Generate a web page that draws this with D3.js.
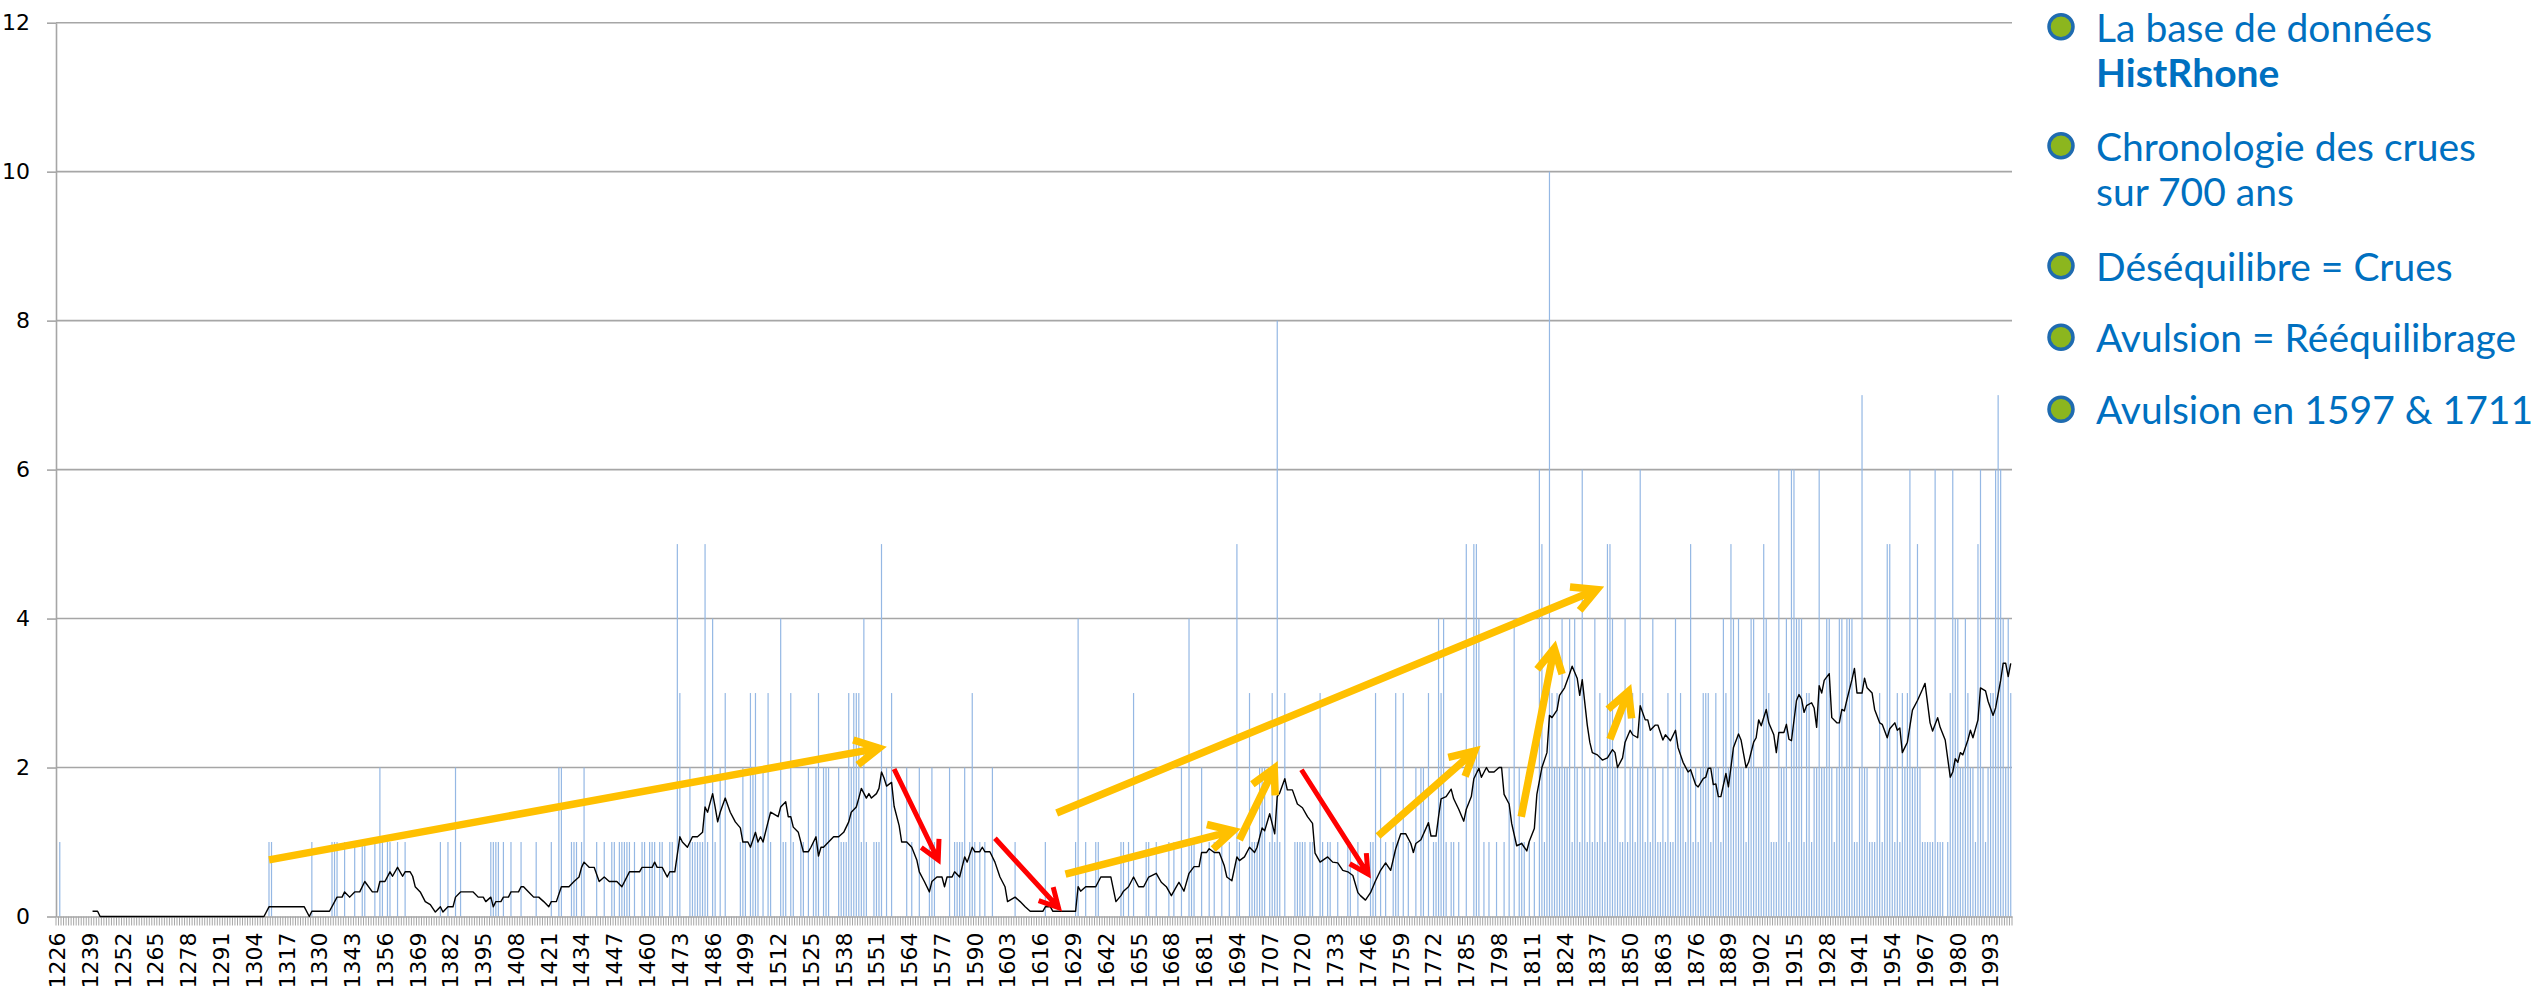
<!DOCTYPE html>
<html>
<head>
<meta charset="utf-8">
<script src="https://cdn.jsdelivr.net/npm/d3@7"></script>
<style>
  body { margin: 0; background: #fff; }
  svg { display: block; }
</style>
</head>
<body>
<div id="chart"></div>
<script>
// yearly flood counts, one row per decade
var floods1200 = [
  0,1,0,0,
  0,0,0,0,0,0,0,0,0,0,
  0,0,0,0,0,0,0,0,0,0,
  0,0,0,0,0,0,0,0,0,0,
  0,0,0,0,0,0,0,0,0,0,
  0,0,0,0,0,0,0,0,0,0,
  0,0,0,0,0,0,0,0,0,0,
  0,0,0,0,0,0,0,0,0,0
];
var floods1300 = [
  0,0,0,0,0,0,0,0,0,0,
  1,1,0,0,0,0,0,0,0,0,
  0,0,0,0,0,0,0,1,0,0,
  0,0,0,0,0,1,1,1,0,0,
  1,0,0,0,1,0,0,1,1,0,
  0,0,1,0,2,1,0,1,1,0,
  0,1,0,0,1,0,0,0,0,0,
  0,0,0,0,0,0,0,0,1,0,
  0,1,0,0,2,0,1,0,0,0,
  0,0,0,0,0,0,0,0,1,1
];
var floods1400 = [
  1,1,0,1,0,0,1,0,0,0,
  1,0,0,0,0,0,1,0,0,0,
  0,0,1,0,0,2,2,0,0,0,
  1,1,1,0,1,2,0,0,0,0,
  1,0,0,1,0,0,1,1,0,1,
  1,1,1,1,0,1,0,0,1,1,
  0,1,1,1,0,1,1,0,0,1,
  1,0,5,3,0,0,0,2,1,1,
  1,1,1,5,1,0,4,1,0,2,
  0,3,0,0,0,0,0,1,2,1
];
var floods1500 = [
  0,3,2,3,1,0,2,0,3,1,
  0,0,0,4,1,1,0,3,1,0,
  0,1,1,0,2,0,1,2,3,0,
  2,2,2,0,0,0,2,1,1,1,
  3,2,3,3,3,1,4,1,0,0,
  1,1,1,5,0,2,0,3,0,0,
  0,0,0,2,0,1,0,0,2,0,
  0,0,1,2,1,0,0,0,0,0,
  2,0,1,1,1,1,2,0,1,3,
  1,0,1,0,1,0,0,2,0,0
];
var floods1600 = [
  0,0,0,0,0,0,1,0,0,0,
  0,0,0,0,0,0,0,0,1,0,
  0,0,0,0,0,0,0,0,0,0,
  1,4,0,0,1,0,0,0,1,1,
  0,0,0,0,0,0,0,0,1,1,
  0,1,0,3,0,0,0,0,1,1,
  0,0,1,0,0,0,0,1,0,1,
  0,0,2,0,0,4,1,1,0,0,
  2,0,0,1,0,1,0,0,1,0,
  0,1,0,0,5,1,0,0,0,3
];
var floods1700 = [
  1,1,1,2,2,2,0,1,3,1,
  8,1,0,3,0,0,0,1,1,1,
  1,1,0,1,1,0,0,3,1,0,
  1,1,0,0,1,0,0,0,1,1,
  0,0,1,0,0,0,0,1,1,3,
  0,2,0,1,0,0,1,3,1,0,
  3,0,1,0,0,2,0,2,2,0,
  3,0,1,1,4,3,4,1,0,1,
  1,0,1,0,0,5,0,0,5,5,
  4,0,1,0,1,0,0,1,0,0
];
var floods1800 = [
  1,0,2,0,4,0,2,1,1,0,
  1,0,1,0,6,5,1,2,10,3,
  2,3,2,4,2,2,4,1,4,2,
  1,6,2,1,2,1,4,1,3,2,
  1,5,5,4,2,2,1,1,4,1,
  2,3,1,2,6,3,1,2,1,4,
  2,1,1,2,1,3,1,1,4,2,
  3,2,1,2,5,1,2,1,2,3,
  3,3,1,2,3,2,1,4,3,2,
  5,4,2,4,2,2,1,2,4,4
];
var floods1900 = [
  2,2,2,5,4,3,1,1,1,6,
  2,2,4,1,6,6,4,4,4,1,
  3,3,1,2,2,6,2,2,4,4,
  2,1,2,4,4,2,4,4,4,1,
  1,2,7,2,2,1,1,1,2,3,
  1,2,5,5,2,1,3,1,3,2,
  3,6,2,2,5,2,1,1,1,1,
  1,6,1,1,1,0,1,3,6,4,
  4,2,2,4,3,2,2,1,5,6,
  2,1,2,3,3,6,7,6,4,2,
  4,3
];

// 15-year moving average: [year, value]
var movingAvg = [
  [1240,.07],[1242,.07],[1243,0],[1308,0],[1310,.13],[1324,.13],[1326,0],[1327,.07],[1334,.07],[1337,.26],
  [1339,.26],[1340,.33],[1342,.26],[1344,.33],[1346,.33],[1348,.47],[1351,.33],[1353,.33],[1354,.47],[1356,.47],
  [1358,.6],[1359,.54],[1361,.66],[1363,.54],[1364,.6],[1366,.6],[1367,.54],[1368,.4],[1370,.33],[1372,.2],
  [1374,.16],[1376,.06],[1378,.13],[1379,.06],[1381,.13],[1383,.13],[1384,.26],[1386,.33],[1391,.33],[1393,.26],
  [1395,.26],[1396,.2],[1398,.26],[1399,.13],[1400,.2],[1402,.2],[1403,.26],[1405,.26],[1406,.33],[1409,.33],
  [1410,.4],[1411,.4],[1413,.33],[1415,.26],[1417,.26],[1419,.2],[1421,.13],[1422,.2],[1424,.2],[1426,.4],
  [1429,.4],[1431,.47],[1433,.53],[1434,.66],[1435,.73],[1437,.66],[1439,.66],[1441,.47],[1443,.53],[1445,.47],
  [1448,.47],[1450,.4],[1453,.6],[1457,.6],[1458,.66],[1462,.66],[1463,.73],[1464,.66],[1466,.66],[1468,.53],
  [1469,.6],[1471,.6],[1473,1.07],[1474,1],[1476,.93],[1477,1],[1478,1.07],[1480,1.07],[1482,1.13],[1483,1.47],
  [1484,1.4],[1486,1.65],[1487,1.47],[1488,1.27],[1489,1.4],[1491,1.59],[1493,1.4],[1495,1.27],[1497,1.19],[1498,1],
  [1500,1],[1501,.93],[1503,1.13],[1504,1],[1505,1.07],[1506,1],[1508,1.27],[1509,1.4],[1512,1.34],[1513,1.47],
  [1515,1.54],[1516,1.34],[1517,1.34],[1518,1.2],[1520,1.13],[1522,.87],[1524,.87],[1525,.93],[1527,1.07],[1528,.81],
  [1529,.93],[1530,.93],[1532,1],[1534,1.07],[1536,1.07],[1538,1.13],[1540,1.27],[1541,1.4],[1543,1.47],[1544,1.59],
  [1545,1.72],[1547,1.59],[1548,1.65],[1549,1.59],[1551,1.65],[1552,1.72],[1553,1.94],[1554,1.86],[1555,1.75],[1557,1.8],
  [1558,1.48],[1560,1.22],[1561,1],[1563,1],[1565,.93],[1567,.76],[1568,.6],[1570,.47],[1572,.33],[1573,.47],
  [1575,.53],[1577,.53],[1578,.4],[1579,.53],[1581,.53],[1582,.6],[1584,.53],[1586,.8],[1587,.73],[1589,.93],
  [1590,.87],[1592,.87],[1593,.93],[1594,.87],[1596,.87],[1598,.73],[1600,.53],[1602,.4],[1603,.2],[1606,.26],
  [1608,.2],[1610,.13],[1612,.07],[1617,.07],[1618,.13],[1620,.13],[1621,.07],[1630,.07],[1631,.4],[1632,.34],
  [1634,.4],[1638,.4],[1640,.53],[1644,.53],[1646,.2],[1648,.28],[1649,.34],[1651,.4],[1653,.53],[1655,.4],
  [1657,.4],[1659,.53],[1662,.58],[1664,.46],[1666,.4],[1668,.28],[1670,.4],[1671,.46],[1673,.34],[1675,.58],
  [1677,.67],[1679,.67],[1680,.86],[1682,.86],[1683,.91],[1685,.86],[1687,.86],[1689,.68],[1690,.53],[1692,.48],
  [1694,.8],[1695,.75],[1697,.8],[1699,.93],[1701,.86],[1702,.93],[1704,1.19],[1705,1.15],[1707,1.38],[1709,1.11],
  [1710,1.61],[1711,1.66],[1713,1.85],[1714,1.7],[1716,1.7],[1718,1.51],[1720,1.46],[1722,1.34],[1724,1.25],[1725,.85],
  [1727,.73],[1730,.8],[1732,.73],[1734,.72],[1736,.62],[1738,.6],[1740,.55],[1742,.32],[1743,.28],[1745,.22],
  [1747,.32],[1749,.48],[1751,.62],[1753,.72],[1755,.62],[1757,.91],[1759,1.11],[1761,1.11],[1763,.98],[1764,.86],
  [1765,.98],[1767,1.03],[1770,1.26],[1771,1.08],[1773,1.08],[1774,1.34],[1775,1.58],[1777,1.61],[1779,1.71],[1780,1.58],
  [1782,1.44],[1784,1.28],[1785,1.44],[1787,1.61],[1788,1.85],[1790,1.99],[1791,1.87],[1793,2],[1794,1.94],[1796,1.94],
  [1798,2],[1799,2],[1800,1.64],[1802,1.51],[1803,1.25],[1805,.95],[1807,.98],[1809,.88],[1810,1.01],[1812,1.18],
  [1813,1.64],[1815,2],[1817,2.2],[1818,2.7],[1819,2.67],[1821,2.77],[1822,2.97],[1824,3.07],[1826,3.26],[1827,3.36],
  [1829,3.2],[1830,2.97],[1831,3.18],[1833,2.57],[1834,2.34],[1835,2.2],[1837,2.17],[1839,2.1],[1841,2.13],[1843,2.24],
  [1844,2.2],[1845,2],[1847,2.13],[1848,2.34],[1850,2.5],[1851,2.44],[1853,2.4],[1854,2.83],[1856,2.64],[1857,2.64],
  [1858,2.5],[1860,2.57],[1861,2.57],[1863,2.37],[1864,2.44],[1866,2.36],[1868,2.5],[1869,2.27],[1870,2.17],[1871,2.07],
  [1873,1.94],[1874,1.97],[1876,1.77],[1877,1.74],[1879,1.85],[1880,1.87],[1881,1.99],[1882,1.99],[1883,1.77],[1884,1.78],
  [1885,1.61],[1886,1.61],[1888,1.92],[1889,1.74],[1891,2.27],[1893,2.45],[1894,2.37],[1896,2],[1897,2.07],[1899,2.34],
  [1900,2.4],[1901,2.64],[1902,2.56],[1904,2.78],[1905,2.6],[1907,2.44],[1908,2.2],[1909,2.47],[1911,2.47],[1912,2.58],
  [1913,2.38],[1914,2.36],[1916,2.9],[1917,2.98],[1918,2.92],[1919,2.74],[1920,2.83],[1922,2.87],[1923,2.8],[1924,2.54],
  [1925,3.1],[1926,3],[1927,3.17],[1929,3.26],[1930,2.67],[1932,2.6],[1933,2.6],[1934,2.78],[1935,2.76],[1936,2.91],
  [1938,3.18],[1939,3.33],[1940,3],[1942,3],[1943,3.2],[1944,3.07],[1946,3],[1947,2.78],[1949,2.6],[1950,2.58],
  [1952,2.4],[1953,2.52],[1955,2.6],[1956,2.5],[1957,2.53],[1958,2.2],[1959,2.27],[1960,2.34],[1962,2.77],[1964,2.9],
  [1966,3.05],[1967,3.13],[1969,2.6],[1970,2.49],[1972,2.67],[1973,2.54],[1975,2.37],[1977,1.87],[1978,1.94],[1979,2.12],
  [1980,2.07],[1981,2.2],[1982,2.17],[1984,2.37],[1985,2.5],[1986,2.4],[1988,2.64],[1989,3.07],[1991,3.03],[1992,2.89],
  [1994,2.7],[1995,2.8],[1997,3.17],[1998,3.4],[1999,3.4],[2000,3.22],[2001,3.4]
];

var yTicks = [0, 2, 4, 6, 8, 10, 12];
var firstYear = 1226, labelStep = 13;

// annotation arrows: [yearFrom, valueFrom, yearTo, valueTo]
var riseArrows = [
  [1310, 0.76, 1552, 2.26],
  [1626, 0.57, 1692.5, 1.15],
  [1695, 1.03, 1708.8, 1.99],
  [1622.5, 1.39, 1836.8, 4.39],
  [1750, 1.08, 1788.3, 2.22],
  [1806.8, 1.34, 1819.9, 3.6],
  [1842, 2.38, 1849.3, 3.02]
];
var fallArrows = [
  [1558, 1.98, 1575.5, 0.76],
  [1598, 1.05, 1623.2, 0.12],
  [1719.6, 1.97, 1746, 0.57]
];

var legendItems = [
  [["La base de données", false], ["HistRhone", true]],
  [["Chronologie des crues", false], ["sur 700 ans", false]],
  [["Déséquilibre = Crues", false]],
  [["Avulsion = Rééquilibrage", false]],
  [["Avulsion en 1597 & 1711", false]]
];

var floods = [].concat(floods1200, floods1300, floods1400, floods1500,
                       floods1600, floods1700, floods1800, floods1900);
var years = d3.range(firstYear, firstYear + floods.length);
var data = years.map(function(yr, i) { return {year: yr, count: floods[i]}; });
var labelYears = years.filter(function(yr) { return (yr - firstYear) % labelStep == 0; });

var width = 2539, height = 993;
var margin = {left: 56, right: 2012, top: 22.7, bottom: 916.5};

var svg = d3.select("#chart").append("svg")
  .attr("width", width)
  .attr("height", height);

svg.append("rect").attr("width", width).attr("height", height).attr("fill", "#fff");

var x = d3.scaleBand().domain(years).range([margin.left, margin.right]).paddingInner(0);
var bw = x.bandwidth();
// continuous version for the arrows (fractional years)
var xYear = d3.scaleLinear().domain([firstYear, firstYear + years.length]).range([margin.left, margin.right]);
var y = d3.scaleLinear().domain([0, 12]).range([margin.bottom, margin.top]);

var gridColor = "#A6A6A6";
var axisFont = "'DejaVu Sans', sans-serif";

// horizontal gridlines
svg.append("g").selectAll("line")
  .data(yTicks.filter(function(v) { return v > 0; }))
  .enter().append("line")
  .attr("x1", margin.left).attr("x2", margin.right)
  .attr("y1", function(d) { return y(d); })
  .attr("y2", function(d) { return y(d); })
  .attr("stroke", gridColor)
  .attr("stroke-width", 1.6);

// bars
svg.append("g").selectAll("rect")
  .data(data.filter(function(d) { return d.count > 0; }))
  .enter().append("rect")
  .attr("x", function(d) { return x(d.year) + bw / 2 - 0.6; })
  .attr("width", 1.2)
  .attr("y", function(d) { return y(d.count); })
  .attr("height", function(d) { return y(0) - y(d.count); })
  .attr("fill", "#95B8E4");

// Y axis
var yAxis = svg.append("g")
  .attr("transform", "translate(" + margin.left + ",0)")
  .call(d3.axisLeft(y).tickValues(yTicks).tickSize(9).tickSizeOuter(0).tickPadding(17));
yAxis.select(".domain").attr("stroke", gridColor).attr("stroke-width", 1.6);
yAxis.selectAll(".tick line").attr("stroke", gridColor).attr("stroke-width", 1.6);
yAxis.selectAll("text")
  .style("font-family", axisFont)
  .style("font-size", "22px")
  .attr("fill", "#000");

// X axis
var xAxis = svg.append("g")
  .attr("transform", "translate(0," + margin.bottom + ")")
  .call(d3.axisBottom(x).tickValues(labelYears).tickSize(0).tickSizeOuter(0));
xAxis.select(".domain").attr("stroke", gridColor).attr("stroke-width", 1.6);
xAxis.selectAll("text")
  .attr("transform", "rotate(-90)")
  .attr("text-anchor", "end")
  .attr("x", -16)
  .attr("y", 0)
  .attr("dy", "0.36em")
  .style("font-family", axisFont)
  .style("font-size", "22px")
  .attr("fill", "#000");

// tick comb between the categories
xAxis.append("g").selectAll("line")
  .data(years.concat([firstYear + years.length]))
  .enter().append("line")
  .attr("x1", function(d) { return xYear(d); })
  .attr("x2", function(d) { return xYear(d); })
  .attr("y1", 0).attr("y2", 9)
  .attr("stroke", gridColor)
  .attr("stroke-width", 1);

// moving average line
svg.append("path")
  .datum(movingAvg)
  .attr("fill", "none")
  .attr("stroke", "#000")
  .attr("stroke-width", 1.4)
  .attr("stroke-linejoin", "round")
  .attr("d", d3.line()
    .x(function(d) { return x(d[0]) + bw / 2; })
    .y(function(d) { return y(d[1]); }));

// arrows
function drawArrow(a, color, sw, headLen) {
  var x0 = xYear(a[0] + 0.5), y0 = y(a[1]);
  var x1 = xYear(a[2] + 0.5), y1 = y(a[3]);
  var ang = Math.atan2(y1 - y0, x1 - x0);
  var spread = 28 * Math.PI / 180;
  var ax = x1 - headLen * Math.cos(ang - spread), ay = y1 - headLen * Math.sin(ang - spread);
  var bx = x1 - headLen * Math.cos(ang + spread), by = y1 - headLen * Math.sin(ang + spread);
  svg.append("path")
    .attr("d", "M" + x0 + "," + y0 + "L" + x1 + "," + y1 +
               "M" + ax + "," + ay + "L" + x1 + "," + y1 + "L" + bx + "," + by)
    .attr("fill", "none")
    .attr("stroke", color)
    .attr("stroke-width", sw)
    .attr("stroke-linejoin", "miter")
    .attr("stroke-linecap", "butt");
}
riseArrows.forEach(function(a) { drawArrow(a, "#FFC000", 7.5, 27); });
fallArrows.forEach(function(a) { drawArrow(a, "#FF0000", 5, 21); });

// bullet list on the right
var bulletY = [26.7, 145.7, 265.7, 337.3, 409.3];
var legend = svg.append("g");
legendItems.forEach(function(item, i) {
  legend.append("circle")
    .attr("cx", 2061)
    .attr("cy", bulletY[i])
    .attr("r", 12)
    .attr("fill", "#8CB61E")
    .attr("stroke", "#1F6BB0")
    .attr("stroke-width", 3.5);
  item.forEach(function(line, j) {
    legend.append("text")
      .attr("x", 2096)
      .attr("y", bulletY[i] + 15 + j * 45.7)
      .style("font-family", "Lato, 'Open Sans', sans-serif")
      .style("font-size", "39px")
      .style("font-weight", line[1] ? "bold" : "normal")
      .attr("fill", "#0070C0")
      .text(line[0]);
  });
});
</script>
</body>
</html>
